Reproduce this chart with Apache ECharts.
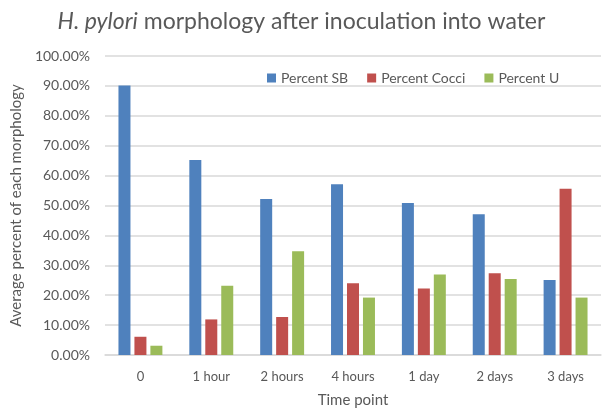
<!DOCTYPE html>
<html>
<head>
<meta charset="utf-8">
<script src="https://cdn.jsdelivr.net/npm/echarts@6/dist/echarts.min.js"></script>
<style>
html,body{margin:0;padding:0;background:#fff;}
#chart{width:603px;height:413px;}
</style>
</head>
<body>
<div id="chart"></div>
<script>
const categories = ['0', '1 hour', '2 hours', '4 hours', '1 day', '2 days', '3 days'];
const seriesNames = ['Percent SB', 'Percent Cocci', 'Percent U'];
const percentSB = [0.901, 0.652, 0.522, 0.571, 0.508, 0.471, 0.251];
const percentCocci = [0.061, 0.119, 0.127, 0.240, 0.222, 0.273, 0.556];
const percentU = [0.031, 0.232, 0.347, 0.192, 0.269, 0.254, 0.192];
const colors = ['#4F81BD', '#C0504D', '#9BBB59'];

const FONT = 'Lato';
const chart = echarts.init(document.getElementById('chart'), null, {renderer: 'canvas'});
const mk = (name, data, color) => ({
  name, type: 'bar', data, itemStyle: {color},
  barGap: '33%', barCategoryGap: '38%'
});
chart.setOption({
  animation: false,
  backgroundColor: '#fff',
  textStyle: {fontFamily: FONT},
  title: {
    text: '{i|H. pylori} morphology after inoculation into water',
    left: 'center', top: 5,
    textStyle: {
      fontFamily: FONT, fontSize: 23, fontWeight: 'normal', color: '#595959',
      rich: {i: {fontFamily: FONT, fontSize: 23, fontStyle: 'italic', color: '#595959'}}
    }
  },
  legend: {
    top: 66, left: 262, itemWidth: 9, itemHeight: 9, itemGap: 19,
    icon: 'rect',
    textStyle: {fontFamily: FONT, fontSize: 14, color: '#595959'},
    data: seriesNames
  },
  grid: {left: 105, right: 2, top: 56, bottom: 57, containLabel: false},
  xAxis: {
    type: 'category', data: categories,
    name: 'Time point', nameLocation: 'middle', nameGap: 38,
    nameTextStyle: {fontFamily: FONT, fontSize: 15, color: '#595959'},
    axisLine: {lineStyle: {color: '#D9D9D9', width: 1.5}},
    axisTick: {show: false},
    axisLabel: {fontFamily: FONT, fontSize: 13, color: '#595959', margin: 15, interval: 0}
  },
  yAxis: {
    type: 'value', min: 0, max: 1, interval: 0.1,
    name: 'Average percent of each morphology', nameLocation: 'middle', nameGap: 80,
    nameTextStyle: {fontFamily: FONT, fontSize: 15, color: '#595959'},
    axisLine: {show: false}, axisTick: {show: false},
    splitLine: {lineStyle: {color: '#D9D9D9', width: 1.5}},
    axisLabel: {
      fontFamily: FONT, fontSize: 14, color: '#595959', margin: 15,
      formatter: v => (v * 100).toFixed(2) + '%'
    }
  },
  series: [
    mk(seriesNames[0], percentSB, colors[0]),
    mk(seriesNames[1], percentCocci, colors[1]),
    mk(seriesNames[2], percentU, colors[2])
  ]
});
</script>
</body>
</html>
